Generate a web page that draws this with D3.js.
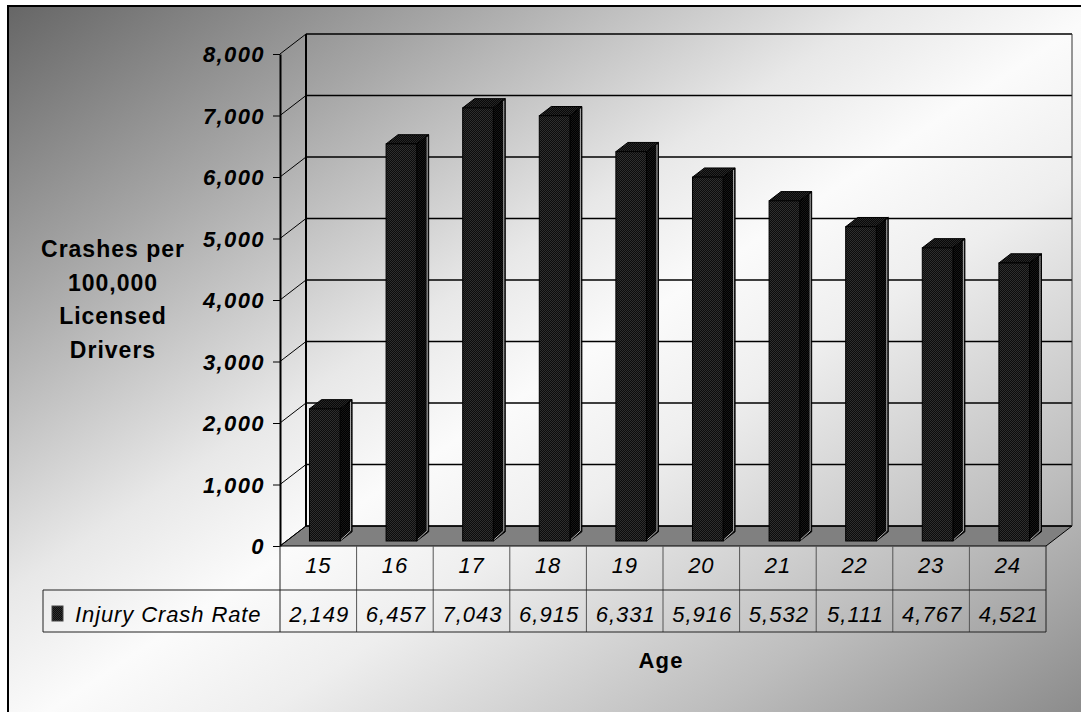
<!DOCTYPE html>
<html>
<head>
<meta charset="utf-8">
<script src="https://cdn.jsdelivr.net/npm/d3@7"></script>
<style>
  html, body { margin: 0; padding: 0; background: #fff; }
  svg { display: block; }
  text { font-family: Arial, "Liberation Sans", sans-serif; fill: #000; }
</style>
</head>
<body>
<svg id="chart" width="1081" height="712"></svg>
<script>
// Injury crash rate per 100,000 licensed drivers, by driver age
const ages = ["15", "16", "17", "18", "19", "20", "21", "22", "23", "24"];
const injuryCrashRate = [2149, 6457, 7043, 6915, 6331, 5916, 5532, 5111, 4767, 4521];
const yTicks = [0, 1000, 2000, 3000, 4000, 5000, 6000, 7000, 8000];
const seriesName = "Injury Crash Rate";
const yTitleLines = ["Crashes per", "100,000", "Licensed", "Drivers"];
const xTitle = "Age";

const svg = d3.select("#chart");
const W = 1081, H = 712;

// plot geometry (front plane) and 3-D depth offset
const left = 280, right = 1046, floorY = 546, topY = 54;
const DX = 26, DY = -20;

const x = d3.scaleBand().domain(ages).range([left, right]).padding(0);
const y = d3.scaleLinear().domain([0, 8000]).range([floorY, topY]);
const fmt = d3.format(",");

const defs = svg.append("defs");

// chart-area background: dark top-left, light diagonal band, grey bottom-right
const bg = defs.append("linearGradient").attr("id", "bgGrad")
  .attr("x1", 0).attr("y1", 0).attr("x2", 1).attr("y2", 1);
[[0, "#666"], [0.2, "#a5a5a5"], [0.4, "#e8e8e8"], [0.5, "#fbfbfb"],
 [0.6, "#eeeeee"], [0.8, "#bdbdbd"], [1, "#838383"]].forEach(([o, c]) =>
  bg.append("stop").attr("offset", o).attr("stop-color", c));

// fine dither used on the bar faces
function dither(id, base, dot) {
  const p = defs.append("pattern").attr("id", id)
    .attr("width", 2).attr("height", 2).attr("patternUnits", "userSpaceOnUse");
  p.append("rect").attr("width", 2).attr("height", 2).attr("fill", base);
  p.append("rect").attr("width", 1).attr("height", 1).attr("fill", dot);
  p.append("rect").attr("x", 1).attr("y", 1).attr("width", 1).attr("height", 1).attr("fill", dot);
}
dither("faceFront", "#0c0c0c", "#2e2e2e");
dither("faceTop", "#080808", "#262626");
dither("faceSide", "#000", "#151515");

// frame
svg.append("rect")
  .attr("x", 8).attr("y", 6).attr("width", W + 20).attr("height", H + 20)
  .attr("fill", "url(#bgGrad)").attr("stroke", "#000").attr("stroke-width", 2);

const g = svg.append("g");

// floor
const floorPts = [[left, floorY], [right, floorY], [right + DX, floorY + DY], [left + DX, floorY + DY]];
g.append("polygon").attr("points", floorPts.map(p => p.join(",")).join(" "))
  .attr("fill", "#808080").attr("stroke", "#000").attr("stroke-width", 1);

// back-wall gridlines and side-wall diagonals
g.selectAll("line.grid").data(yTicks).join("line").attr("class", "grid")
  .attr("x1", left + DX).attr("x2", right + DX)
  .attr("y1", d => y(d) + DY).attr("y2", d => y(d) + DY)
  .attr("stroke", "#000").attr("stroke-width", 1.3);
g.selectAll("line.diag").data(yTicks).join("line").attr("class", "diag")
  .attr("x1", left).attr("x2", left + DX)
  .attr("y1", d => y(d)).attr("y2", d => y(d) + DY)
  .attr("stroke", "#000").attr("stroke-width", 1);
// wall edges
g.append("line").attr("x1", left + DX).attr("x2", left + DX)
  .attr("y1", y(8000) + DY).attr("y2", y(0) + DY)
  .attr("stroke", "#000").attr("stroke-width", 2);
g.append("line").attr("x1", right + DX).attr("x2", right + DX)
  .attr("y1", y(8000) + DY).attr("y2", y(0) + DY)
  .attr("stroke", "#333").attr("stroke-width", 1);

// bars
const f1 = 0.25, f2 = 0.71;
const bw = x.bandwidth() * 0.4;
const bars = g.selectAll("g.bar").data(ages.map((a, i) => ({ age: a, v: injuryCrashRate[i] })))
  .join("g").attr("class", "bar");
bars.each(function (d) {
  const b = d3.select(this);
  const x0 = x(d.age) + (x.bandwidth() - bw) / 2 + f1 * DX;
  const x1 = x0 + bw;
  const yb = y(0) + f1 * DY, yt = y(d.v) + f1 * DY;
  const ox = (f2 - f1) * DX, oy = (f2 - f1) * DY;
  const P = pts => pts.map(p => p.join(",")).join(" ");
  // side face
  b.append("polygon").attr("points", P([[x1, yt], [x1 + ox, yt + oy], [x1 + ox, yb + oy], [x1, yb]]))
    .attr("fill", "url(#faceSide)").attr("stroke", "#000").attr("stroke-width", 1);
  b.append("polyline").attr("points", P([[x1 + ox - 1.5, yt + oy + 2], [x1 + ox - 1.5, yb + oy - 1], [x1 + 1, yb - 1.5]]))
    .attr("fill", "none").attr("stroke", "#b5b5b5").attr("stroke-width", 1);
  // top face
  b.append("polygon").attr("points", P([[x0, yt], [x0 + ox, yt + oy], [x1 + ox, yt + oy], [x1, yt]]))
    .attr("fill", "url(#faceTop)").attr("stroke", "#000").attr("stroke-width", 1);
  // front face
  b.append("rect").attr("x", x0).attr("y", yt).attr("width", bw).attr("height", yb - yt)
    .attr("fill", "url(#faceFront)").attr("stroke", "#000").attr("stroke-width", 1);
});

// value axis
const yAxis = d3.axisLeft(y).tickValues(yTicks).tickFormat(fmt).tickSize(7).tickSizeOuter(0).tickPadding(8);
const ax = svg.append("g").attr("transform", `translate(${left},0)`).call(yAxis);
ax.select(".domain").attr("stroke", "#000").attr("stroke-width", 2);
ax.selectAll(".tick line").attr("stroke", "#000").attr("stroke-width", 1);
ax.selectAll(".tick text")
  .attr("dy", "0.36em")
  .style("font-family", 'Arial, "Liberation Sans", sans-serif')
  .style("font-size", "22px").style("font-weight", "bold").style("font-style", "italic")
  .style("letter-spacing", "1.4px").attr("fill", "#000");

// y-axis title
svg.append("text").attr("text-anchor", "middle")
  .style("font-size", "23px").style("font-weight", "bold").style("letter-spacing", "1px")
  .selectAll("tspan").data(yTitleLines).join("tspan")
  .attr("x", 113).attr("y", (d, i) => 257 + i * 33.5).text(d => d);

// data table
const rowTop = floorY, rowMid = 590, rowBot = 632, legLeft = 43;
const tbl = svg.append("g");
const cols = ages.map(a => x(a)).concat([right]);
tbl.selectAll("line.col").data(cols).join("line").attr("class", "col")
  .attr("x1", d => d).attr("x2", d => d).attr("y1", rowTop).attr("y2", rowBot)
  .attr("stroke", (d, i) => (i === 0 || i === cols.length - 1) ? "#222" : "#555").attr("stroke-width", 1);
tbl.append("line").attr("x1", legLeft).attr("x2", right).attr("y1", rowMid).attr("y2", rowMid)
  .attr("stroke", "#222");
tbl.append("line").attr("x1", legLeft).attr("x2", right).attr("y1", rowBot).attr("y2", rowBot)
  .attr("stroke", "#222");
tbl.append("line").attr("x1", legLeft).attr("x2", legLeft).attr("y1", rowMid).attr("y2", rowBot)
  .attr("stroke", "#222");

tbl.selectAll("text.cat").data(ages).join("text").attr("class", "cat")
  .attr("x", d => x(d) + x.bandwidth() / 2).attr("y", 573)
  .attr("text-anchor", "middle").style("font-size", "22px").style("font-style", "italic")
  .style("letter-spacing", "0.8px").text(d => d);
tbl.selectAll("text.val").data(injuryCrashRate).join("text").attr("class", "val")
  .attr("x", (d, i) => x(ages[i]) + x.bandwidth() / 2 + 1).attr("y", 622)
  .attr("text-anchor", "middle").style("font-size", "22px").style("font-style", "italic")
  .style("letter-spacing", "1px").text(d => fmt(d));

// legend key inside the table
tbl.append("rect").attr("x", 52).attr("y", 606).attr("width", 11).attr("height", 15)
  .attr("fill", "url(#faceFront)").attr("stroke", "#444").attr("stroke-width", 1);
tbl.append("text").attr("x", 75).attr("y", 622)
  .style("font-size", "22px").style("font-style", "italic").style("letter-spacing", "0.9px")
  .text(seriesName);

// category axis title
svg.append("text").attr("x", 661).attr("y", 668).attr("text-anchor", "middle")
  .style("font-size", "22px").style("font-weight", "bold").style("letter-spacing", "1.2px")
  .text(xTitle);
</script>
</body>
</html>
